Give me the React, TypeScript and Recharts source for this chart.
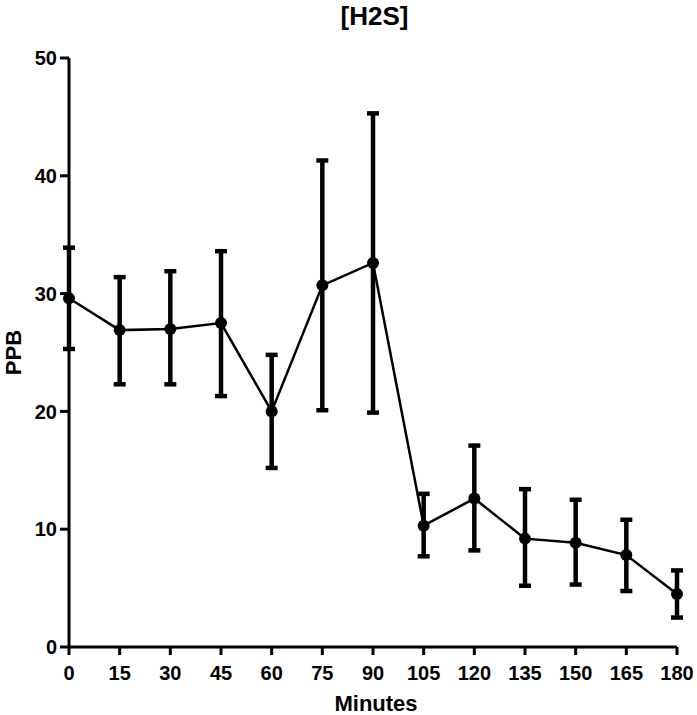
import { LineChart, Line, XAxis, YAxis, ErrorBar, Label } from "recharts";

const minutes = [0, 15, 30, 45, 60, 75, 90, 105, 120, 135, 150, 165, 180];
const meanPpb = [29.6, 26.9, 27.0, 27.5, 20.0, 30.7, 32.6, 10.3, 12.6, 9.2, 8.85, 7.8, 4.5];
const upperPpb = [33.9, 31.4, 31.9, 33.6, 24.8, 41.3, 45.3, 13.0, 17.1, 13.4, 12.5, 10.8, 6.5];
const lowerPpb = [25.3, 22.3, 22.3, 21.3, 15.2, 20.1, 19.9, 7.7, 8.2, 5.2, 5.3, 4.75, 2.5];
const xTicks = [0, 15, 30, 45, 60, 75, 90, 105, 120, 135, 150, 165, 180];
const yTicks = [0, 10, 20, 30, 40, 50];

const font = '"Liberation Sans", Arial, Helvetica, sans-serif';

const data = minutes.map((m, i) => ({
  min: m,
  ppb: meanPpb[i],
  err: [meanPpb[i] - lowerPpb[i], upperPpb[i] - meanPpb[i]],
}));

const tickStyle = { fill: "#000", fontSize: 20, fontWeight: 700, fontFamily: font };

export default function App() {
  return (
    <div style={{ position: "absolute", left: 0, top: 0, width: 697, height: 715, background: "#fff" }}>
      <div
        style={{
          position: "absolute",
          left: 69,
          width: 611,
          top: 1,
          textAlign: "center",
          fontFamily: font,
          fontWeight: 700,
          fontSize: 26,
          lineHeight: "30px",
          color: "#000",
        }}
      >
        [H2S]
      </div>
      <LineChart width={697} height={715} data={data} margin={{ top: 58, right: 20, bottom: 0, left: 0 }}>
        <XAxis
          dataKey="min"
          type="number"
          domain={[0, 180]}
          ticks={xTicks}
          interval={0}
          height={68}
          tickSize={8}
          tickMargin={11}
          tick={tickStyle}
          axisLine={{ stroke: "#000", strokeWidth: 3 }}
          tickLine={{ stroke: "#000", strokeWidth: 3 }}
        >
          <Label
            content={({ viewBox }: any) => (
              <text
                x={viewBox.x + viewBox.width / 2 + 3}
                y={viewBox.y + 64}
                textAnchor="middle"
                fontFamily={font}
                fontWeight={700}
                fontSize={22}
                fill="#000"
              >
                Minutes
              </text>
            )}
          />
        </XAxis>
        <YAxis
          type="number"
          domain={[0, 50]}
          ticks={yTicks}
          interval={0}
          width={69}
          tickSize={9}
          tickMargin={3}
          tick={tickStyle}
          axisLine={{ stroke: "#000", strokeWidth: 3 }}
          tickLine={{ stroke: "#000", strokeWidth: 3 }}
        >
          <Label
            content={({ viewBox }: any) => {
              const cx = 21;
              const cy = viewBox.y + viewBox.height / 2;
              return (
                <text
                  x={cx}
                  y={cy}
                  transform={`rotate(-90 ${cx} ${cy})`}
                  textAnchor="middle"
                  fontFamily={font}
                  fontWeight={700}
                  fontSize={22}
                  fill="#000"
                >
                  PPB
                </text>
              );
            }}
          />
        </YAxis>
        <Line
          type="linear"
          dataKey="ppb"
          stroke="#000"
          strokeWidth={2.5}
          dot={{ r: 6, fill: "#000", stroke: "#000", strokeWidth: 0 }}
          activeDot={false}
          isAnimationActive={false}
        >
          <ErrorBar dataKey="err" direction="y" width={6} stroke="#000" strokeWidth={4.5} isAnimationActive={false} />
        </Line>
      </LineChart>
    </div>
  );
}
